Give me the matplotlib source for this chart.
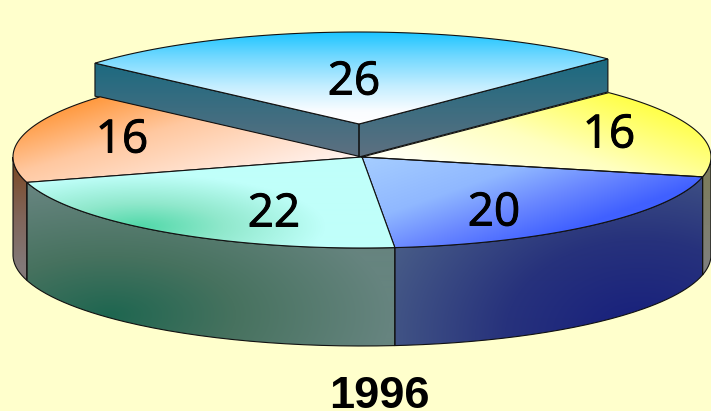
import numpy as np
import matplotlib
matplotlib.use("Agg")
import matplotlib.pyplot as plt
import matplotlib.patheffects as pe
from matplotlib.path import Path
from matplotlib.patches import PathPatch
from matplotlib.colors import to_rgb

# ---- data ----
slice_labels = ["26", "16", "20", "22", "16"]
slice_values = [26, 16, 20, 22, 16]
chart_title = "1996"

# ---- geometry ----
W, H = 711, 411
BG = "#ffffcc"
CX, CY, RX, RY, DEPTH = 362, 157, 349, 91, 98
EX_CX, EX_CY, EX_RX, EX_RY = 359, 124, 352, 92
START_ANGLE = 138.6
LABEL_XY = [(354, 77), (609, 130), (494, 208), (274, 209), (122, 135)]

fig = plt.figure(figsize=(W / 100, H / 100), dpi=100, facecolor=BG)
ax = fig.add_axes([0, 0, 1, 1])
ax.set_xlim(0, W)
ax.set_ylim(H, 0)
ax.axis("off")

gx, gy = np.meshgrid(np.arange(W) + .5, np.arange(H) + .5)


def ramp(t, stops):
    pos = [s[0] for s in stops]
    cols = np.array([to_rgb(s[1]) for s in stops])
    return np.dstack([np.interp(t, pos, cols[:, i]) for i in range(3)])


def linear(px, py, dx, dy, stops):
    return ramp((gx - px) * dx + (gy - py) * dy, stops)


def radial(px, py, sx, sy, stops):
    return ramp(np.hypot((gx - px) / sx, (gy - py) / sy), stops)


def arc(cx, cy, rx, ry, a0, a1, n=80):
    a = np.radians(np.linspace(a0, a1, n))
    return np.column_stack([cx + rx * np.cos(a), cy - ry * np.sin(a)])


def fill(poly, img, z, lw=1.0):
    poly = np.vstack([poly, poly[:1]])
    patch = PathPatch(Path(poly), fc="none", ec="#111111", lw=lw * .8, zorder=z + .1)
    ax.add_patch(patch)
    im = ax.imshow(img, extent=(0, W, H, 0), origin="upper", aspect="auto",
                   zorder=z, interpolation="bilinear")
    im.set_clip_path(patch)


def side(a0, a1, img, z):
    top = arc(CX, CY, RX, RY, a0, a1)
    bot = top + [0, DEPTH]
    fill(np.vstack([top, bot[::-1]]), img, z)


def wedge(cx, cy, rx, ry, a0, a1, img, z):
    fill(np.vstack([[[cx, cy]], arc(cx, cy, rx, ry, a0, a1)]), img, z)


# slice angles from the values (clockwise from START_ANGLE)
fr = np.array(slice_values) / sum(slice_values) * 360
edges = START_ANGLE - np.concatenate([[0], np.cumsum(fr)])
a_top = edges[:2]          # exploded
a_yel = edges[1:3]
a_blu = edges[2:4]
a_grn = edges[3:5]
a_org = edges[4:6]

# exploded wedge
panel = [(0, "#1b6a80"), (1, "#5d7080")]
L = arc(EX_CX, EX_CY, EX_RX, EX_RY, a_top[0], a_top[0], 1)[0]
R = arc(EX_CX, EX_CY, EX_RX, EX_RY, a_top[1], a_top[1], 1)[0]
T = np.array([EX_CX, EX_CY])
D = np.array([0, CY - EX_CY])
panel_img = linear(0, 62, 0, 1 / 94, panel)
fill(np.array([L, T, T + D, L + D]), panel_img, 1)
fill(np.array([R, T, T + D, R + D]), panel_img, 1)
wedge(EX_CX, EX_CY, EX_RX, EX_RY, a_top[0], a_top[1],
      linear(0, 32, 0, 1, [(0, "#18c4ff"), (25, "#70d8ff"), (55, "#c4eeff"), (80, "#fafdff"), (95, "#ffffff")]), 2)

# sides of main body
side(-180, a_grn[1],
     linear(0, 165, 0, 1, [(0, "#7c4a26"), (50, "#806458"), (100, "#827878")]), 3)
side(a_yel[1], 0, linear(0, 175, 0, 1, [(0, "#7c7c5c"), (100, "#808080")]), 3)
side(a_grn[1], a_grn[0],
     radial(110, 315, 280, 130, [(0, "#1e6650"), (.45, "#47725f"), (1, "#66847f")]), 3)
side(a_blu[1], a_blu[0],
     radial(640, 335, 270, 190, [(0, "#161e7c"), (.5, "#27327c"), (1.05, "#4a5f88")]), 3)

# top faces of main body
wedge(CX, CY, RX, RY, a_org[0], a_org[1], linear(95, 100, .3, 1,
      [(0, "#ff9a40"), (50, "#ffc8a0"), (130, "#fff0ea")]), 4)
wedge(CX, CY, RX, RY, a_yel[0], a_yel[1], linear(660, 105, -.35, 1,
      [(0, "#ffff40"), (50, "#ffff90"), (80, "#ffffc0"), (140, "#fffff0")]), 4)
wedge(CX, CY, RX, RY, a_blu[0], a_blu[1], linear(370, 160, .35, 1,
      [(0, "#a4ccff"), (60, "#90b8ff"), (100, "#6a88ff"), (140, "#4060ff")]), 4)
wedge(CX, CY, RX, RY, a_grn[0], a_grn[1], radial(140, 227, 185, 52,
      [(0, "#50d8a8"), (.45, "#90e8cc"), (1, "#c0fffa")]), 5)

# labels: order matches slice_values
lab_font = ["Open Sans", "DejaVu Sans"]
for s, (x, y) in zip(slice_labels, LABEL_XY):
    ax.text(x, y, s, fontsize=33, family=lab_font, color="black",
            ha="center", va="center_baseline", zorder=10,
            path_effects=[pe.withStroke(linewidth=0.7, foreground="black")])

ax.text(379, 408, chart_title, fontsize=32.5, family=["Liberation Sans"], weight="bold",
        color="black", ha="center", va="baseline", zorder=10)

ax.set_xlim(0, W)
ax.set_ylim(H, 0)
fig.savefig("out.png", dpi=100, facecolor=BG)
